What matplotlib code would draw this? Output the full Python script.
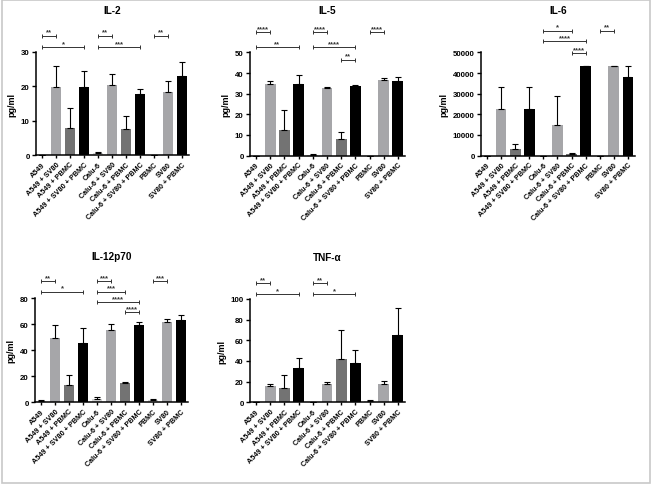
import matplotlib.pyplot as plt
from matplotlib.patches import Rectangle
from matplotlib.transforms import blended_transform_factory

plt.rcParams['font.family'] = ['Liberation Sans', 'DejaVu Sans']
plt.rcParams['font.weight'] = 'bold'

categories = ["A549", "A549 + SV80", "A549 + PBMC", "A549 + SV80 + PBMC",
              "Calu-6", "Calu-6 + SV80", "Calu-6 + PBMC", "Calu-6 + SV80 + PBMC",
              "PBMC", "SV80", "SV80 + PBMC"]

# mean values and (upper) error bars
il2_mean = [0, 19.8, 8.0, 19.7, 0.5, 20.5, 7.6, 17.9, 0, 18.3, 22.9]
il2_err = [0, 6.0, 5.8, 4.7, 0.3, 3.1, 3.9, 1.4, 0, 3.3, 4.2]

il5_mean = [0, 34.7, 12.2, 34.5, 0.4, 32.8, 8.0, 33.7, 0, 36.8, 36.3]
il5_err = [0, 1.2, 9.7, 4.6, 0.3, 0.5, 3.3, 0.5, 0, 1.0, 2.0]

il6_mean = [0, 22700, 3000, 22400, 0, 14600, 1000, 43500, 0, 43500, 38300]
il6_err = [0, 10300, 2700, 10600, 0, 14400, 250, 0, 0, 0, 5200]

il12_mean = [1.0, 49.5, 13.3, 45.5, 2.0, 55.5, 14.8, 59.2, 1.5, 61.5, 63.5]
il12_err = [0.3, 10.0, 7.8, 11.5, 1.5, 4.7, 0.5, 2.2, 0.5, 2.5, 3.8]

tnf_mean = [0, 15.5, 14.0, 33.0, 0, 17.5, 42.0, 38.5, 1.5, 17.5, 65.5]
tnf_err = [0, 2.0, 12.0, 10.0, 0, 2.0, 27.5, 12.5, 1.0, 3.0, 25.5]

# significance brackets: (first bar, second bar, stars, level)
il2_sig = [(0, 1, "**", 0), (0, 3, "*", 1), (4, 5, "**", 0), (4, 7, "***", 1), (8, 9, "**", 0)]
il5_sig = [(0, 1, "****", 0), (0, 3, "**", 1), (4, 5, "****", 0), (4, 7, "****", 1),
           (6, 7, "**", 2), (8, 9, "****", 0)]
il6_sig = [(4, 6, "*", 0), (4, 7, "****", 1), (6, 7, "****", 2), (8, 9, "**", 0)]
il12_sig = [(0, 1, "**", 0), (0, 3, "*", 1), (4, 5, "***", 0), (4, 6, "***", 1),
            (4, 7, "****", 2), (6, 7, "****", 3), (8, 9, "***", 0)]
tnf_sig = [(0, 1, "**", 0), (0, 3, "*", 1), (4, 5, "**", 0), (4, 7, "*", 1)]

colors = ["#d6d6d6", "#a6a6a9", "#737373", "#000000",
          "#d6d6d6", "#a6a6a9", "#737373", "#000000",
          "#d6d6d6", "#a6a6a9", "#000000"]

panels = [
    ("IL-2", il2_mean, il2_err, il2_sig, 30, 10, [0.0552, 0.678, 0.2347, 0.213], [1.158, 1.043]),
    ("IL-5", il5_mean, il5_err, il5_sig, 50, 10, [0.3834, 0.677, 0.2377, 0.213], [1.193, 1.048, 0.925]),
    ("IL-6", il6_mean, il6_err, il6_sig, 50000, 10000, [0.7377, 0.677, 0.2362, 0.213], [1.209, 1.106, 0.99]),
    ("IL-12p70", il12_mean, il12_err, il12_sig, 80, 20, [0.0537, 0.169, 0.2347, 0.2138], [1.164, 1.064, 0.96, 0.865]),
    ("TNF-\u03b1", tnf_mean, tnf_err, tnf_sig, 100, 20, [0.3834, 0.1685, 0.2377, 0.213], [1.152, 1.045]),
]

fig = plt.figure(figsize=(6.52, 4.85), dpi=100)
fig.patches.append(Rectangle((0.003, 0.002), 0.994, 0.995, transform=fig.transFigure,
                             fill=False, edgecolor="#c8c8c8", linewidth=1.2))

for title, mean, err, sig, ymax, ystep, pos, levels in panels:
    ax = fig.add_axes(pos)
    x = list(range(len(categories)))
    ax.bar(x, mean, width=0.76, color=colors, zorder=2)
    ax.errorbar(x, mean, yerr=[[0] * len(err), err], fmt="none", ecolor="black",
                elinewidth=0.8, capsize=2.2, capthick=0.8, zorder=3)
    ax.set_xlim(-0.43, 10.5)
    ax.set_ylim(0, ymax)
    ax.set_yticks(range(0, ymax + 1, ystep))
    ax.set_xticks(x)
    ax.set_xticklabels(categories, rotation=45, ha="right", rotation_mode="anchor",
                       fontsize=5.2, fontweight="bold")
    ax.tick_params(axis="y", labelsize=5.7, width=1, length=3, pad=1.5)
    ax.tick_params(axis="x", width=1, length=2.5, pad=1.5)
    for s in ["top", "right"]:
        ax.spines[s].set_visible(False)
    for s in ["left", "bottom"]:
        ax.spines[s].set_linewidth(1.1)
    ax.set_ylabel("pg/ml", fontsize=6.5, fontweight="bold", labelpad=3)
    ax.text(0.5, 1.41, title, transform=ax.transAxes, ha="center", va="center",
            fontsize=7.2, fontweight="bold")

    trans = blended_transform_factory(ax.transData, ax.transAxes)
    for a, b, stars, lev in sig:
        yb = levels[lev]
        ax.plot([a, b], [yb, yb], color="#333333", lw=0.7, marker="|", markersize=3,
                markeredgewidth=0.7, transform=trans, clip_on=False, zorder=4)
        ax.text((a + b) / 2, yb + 0.005, stars, transform=trans, ha="center", va="bottom",
                fontsize=5.5, color="#333333", clip_on=False)

fig.savefig("out.png", dpi=100)
